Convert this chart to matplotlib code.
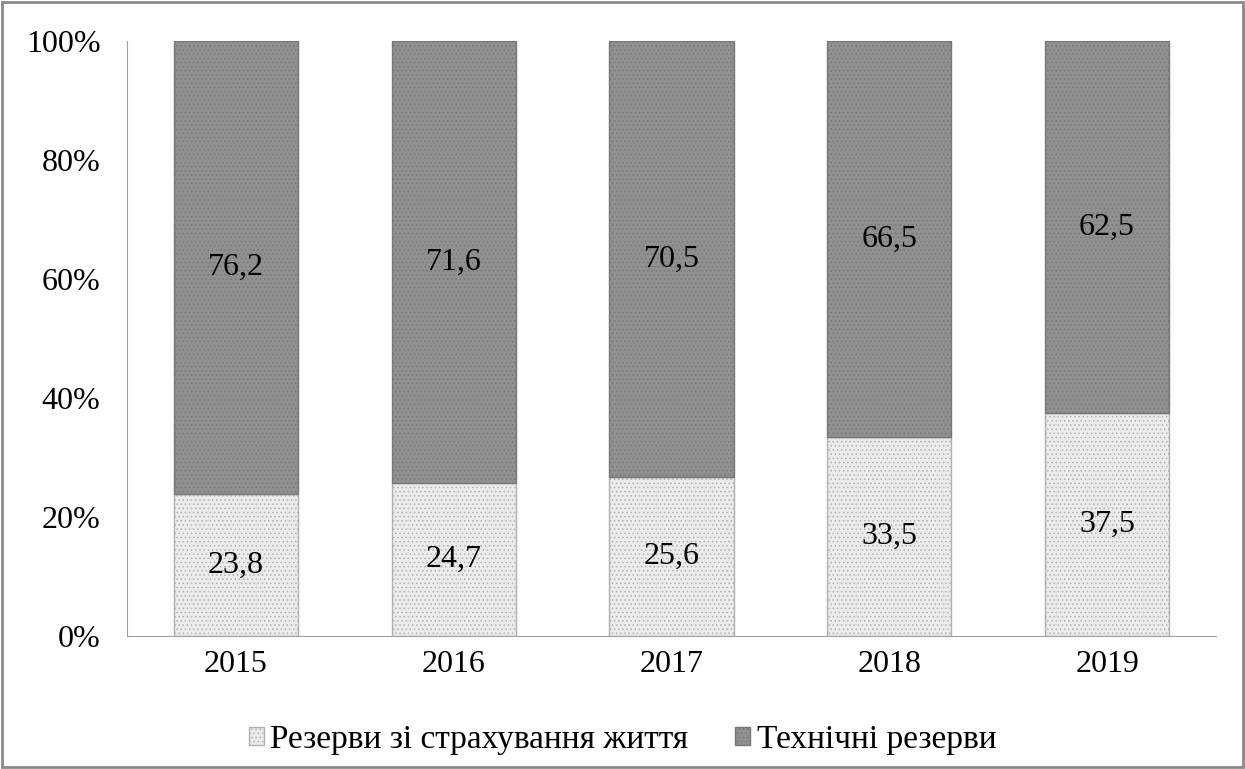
import matplotlib
matplotlib.use('Agg')
import matplotlib.pyplot as plt
import numpy as np

plt.rcParams['font.family'] = ['Liberation Serif', 'DejaVu Serif']
plt.rcParams['hatch.linewidth'] = 0.6

years = ['2015', '2016', '2017', '2018', '2019']
life_reserves = [23.8, 24.7, 25.6, 33.5, 37.5]
tech_reserves = [76.2, 71.6, 70.5, 66.5, 62.5]
series_names = ['Резерви зі страхування життя', 'Технічні резерви']

life = np.array(life_reserves)
tech = np.array(tech_reserves)
total = life + tech
life_share = life / total
tech_share = tech / total

fig = plt.figure(figsize=(12.45, 7.69), dpi=100)
ax = fig.add_axes([127 / 1245, 1 - 636 / 769, (1216 - 127) / 1245, (636 - 41) / 769])

x = np.arange(len(years))
w = 0.57
b1 = ax.bar(x, life_share, w, color='#ebebeb', edgecolor='#b0b0b0', hatch='....',
            linewidth=1.0, label=series_names[0])
b2 = ax.bar(x, tech_share, w, bottom=life_share, color='#909090', edgecolor='#777777',
            hatch='....', linewidth=1.0, label=series_names[1])

for i in range(len(years)):
    ax.text(x[i], life_share[i] / 2, f'{life_reserves[i]:.1f}'.replace('.', ','),
            ha='center', va='center', fontsize=23)
    ax.text(x[i], life_share[i] + tech_share[i] / 2, f'{tech_reserves[i]:.1f}'.replace('.', ','),
            ha='center', va='center', fontsize=23)

ax.set_xlim(-0.5, len(years) - 0.5)
ax.set_ylim(0, 1)
ax.set_yticks(np.arange(0, 1.01, 0.2))
ax.set_yticklabels([f'{int(round(v * 100))}%' for v in np.arange(0, 1.01, 0.2)])
ax.set_xticks(x)
ax.set_xticklabels(years)
ax.tick_params(axis='both', length=0, labelsize=23)
ax.tick_params(axis='y', pad=19)
ax.tick_params(axis='x', pad=10)
for s in ['top', 'right']:
    ax.spines[s].set_visible(False)
ax.spines['left'].set_color('#a0a0a0')
ax.spines['bottom'].set_color('#a0a0a0')

fig.legend(handles=[b1, b2], loc='center', bbox_to_anchor=(0.5, 1 - 740 / 769), ncol=2,
           frameon=False, fontsize=24, handlelength=0.45, handleheight=0.45,
           handletextpad=0.2, columnspacing=1.4)

fig.patches.append(plt.Rectangle((0.002, 0.003), 0.996, 0.994, transform=fig.transFigure,
                                 fill=False, edgecolor='#8a8a8a', linewidth=2))

fig.savefig('out.png', dpi=100)
